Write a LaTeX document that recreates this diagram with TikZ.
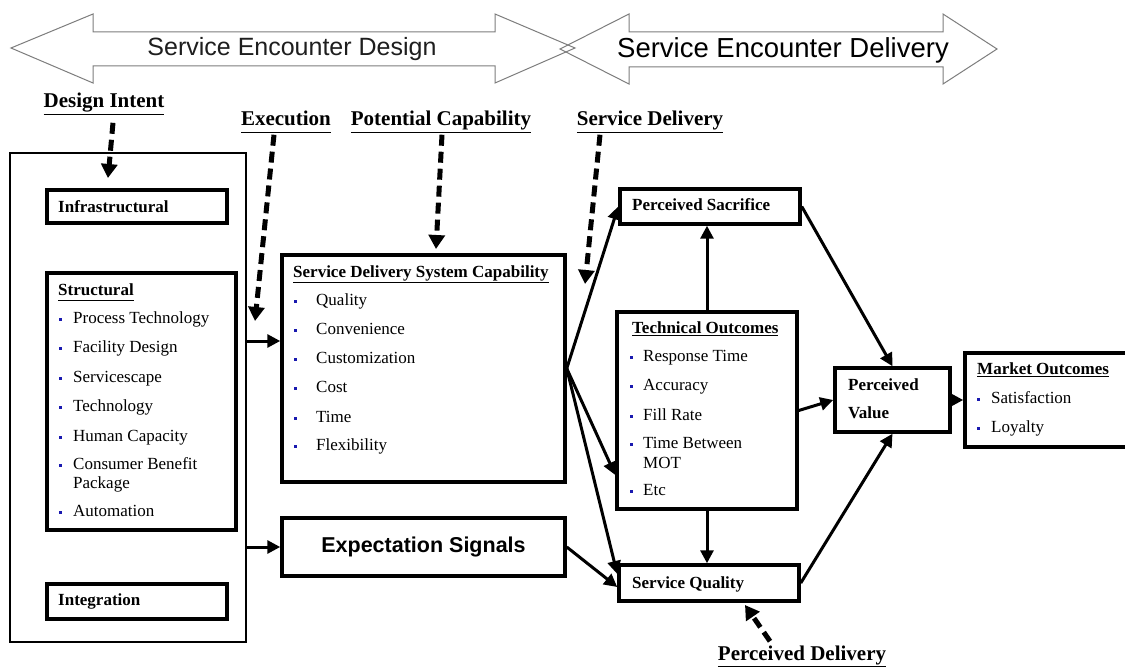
\documentclass[tikz,border=0pt]{standalone}
\usepackage{fontspec}
\setmainfont{Liberation Serif}
\newfontfamily\arialf{Liberation Sans}
\usetikzlibrary{arrows.meta,calc}
\definecolor{bulblue}{RGB}{25,25,175}
\definecolor{arrgray}{RGB}{125,125,125}
\definecolor{txtgray}{RGB}{30,30,30}
\begin{document}
\begin{tikzpicture}[x=1pt,y=-1pt,
  box/.style={draw, line width=3.5pt, inner sep=0pt, fill=white},
  bigbox/.style={draw, line width=2.5pt, inner sep=0pt},
  itm/.style={anchor=base west, inner sep=0pt, font=\fontsize{17}{19}\selectfont},
  ttl/.style={anchor=base west, inner sep=0pt, font=\bfseries\fontsize{17}{19}\selectfont},
  bul/.style={fill=bulblue, minimum size=3pt, inner sep=0pt},
  lab/.style={anchor=base, inner sep=0pt, font=\bfseries\fontsize{21}{23}\selectfont},
  arr/.style={line width=3pt, -{Triangle[length=13pt,width=13pt]}},
  darr/.style={line width=5pt, dash pattern=on 11pt off 6pt, -{Triangle[length=14pt,width=16pt]}},
  toparr/.style={draw=arrgray, line width=1pt, line join=miter}
]
\fill[white] (0,0) rectangle (1125,671);
\useasboundingbox (0,0) rectangle (1125,671);

% top double arrows
\draw[toparr] (11,48) -- (93,14) -- (93,32) -- (495,32) -- (495,14) -- (575,48) -- (495,83) -- (495,66) -- (93,66) -- (93,83) -- cycle;
\draw[toparr] (560,49) -- (629,14) -- (629,32) -- (943,32) -- (943,14) -- (997,49) -- (943,84) -- (943,67) -- (629,67) -- (629,84) -- cycle;
\node[inner sep=0pt, text=txtgray, font=\arialf\fontsize{25}{25}\selectfont] (sedes) at (292,49) {Service Encounter Design};
\node[inner sep=0pt, font=\arialf\fontsize{27.5}{28}\selectfont] (sedel) at (783,50) {Service Encounter Delivery};

% boxes
\node[bigbox, minimum width=236pt, minimum height=489pt] (big) at (128,397.5) {};
\node[box, minimum width=180pt, minimum height=33pt] (infra) at (137,206.5) {};
\node[box, minimum width=189pt, minimum height=257pt] (struct) at (141.5,401.5) {};
\node[box, minimum width=180pt, minimum height=35pt] (integ) at (137,601.5) {};
\node[box, minimum width=283pt, minimum height=227pt] (sdsc) at (423.5,368.5) {};
\node[box, minimum width=283pt, minimum height=58pt] (exp) at (423.5,547) {};
\node[box, minimum width=180pt, minimum height=35pt] (sac) at (710,206.5) {};
\node[box, minimum width=180pt, minimum height=197pt] (tech) at (707,410.5) {};
\node[box, minimum width=180pt, minimum height=36pt] (sq) at (709,583) {};
\node[box, minimum width=115pt, minimum height=64pt] (pv) at (892.5,400) {};
\node[box, minimum width=170pt, minimum height=94pt] (mo) at (1050,400) {};

% box texts
\node[ttl] (infraT) at (58,212.5) {Infrastructural};
\node[ttl] (structT) at (58,295.5) {\underline{Structural\vphantom{y}}};
\foreach \n/\y/\t in {sp/318/Process Technology, sf/347/Facility Design, ss/377/Servicescape, st/406/Technology, sh/436/Human Capacity, sc/464/Consumer Benefit, sa/511/Automation}{
  \node[bul] (\n-b) at (60,\y+1) {};
  \node[itm] (\n) at (73,\y+5.5) {\t};
}
\node[itm] (spk) at (73,488.5) {Package};
\node[ttl] (integT) at (58,605.5) {Integration};

\node[ttl] (sdscT) at (293,277.5) {\underline{Service Delivery System Capability}};
\foreach \n/\y/\t in {q/300/Quality, cv/329/Convenience, cu/358/Customization, co/387/Cost, ti/417/Time, fl/445/Flexibility}{
  \node[bul] (\n-b) at (295,\y+1) {};
  \node[itm] (\n) at (316,\y+5.5) {\t};
}
\node[inner sep=0pt, font=\arialf\bfseries\fontsize{21.5}{22}\selectfont] (expT) at (exp.center) {Expectation Signals};

\node[ttl] (sacT) at (632,210.5) {Perceived Sacrifice};
\node[ttl] (techT) at (632,333.5) {\underline{Technical Outcomes}};
\foreach \n/\y/\t in {rt/356/Response Time, ac/385/Accuracy, fr/415/Fill Rate, tb/443/Time Between, et/490/Etc}{
  \node[bul] (\n-b) at (631,\y+1) {};
  \node[itm] (\n) at (643,\y+5.5) {\t};
}
\node[itm] (mot) at (643,468.5) {MOT};
\node[ttl] (sqT) at (632,588.5) {Service Quality};
\node[ttl] (pvT1) at (848,390.5) {Perceived};
\node[ttl] (pvT2) at (848,418.5) {Value};
\node[ttl] (moT) at (977,374.5) {\underline{Market Outcomes}};
\foreach \n/\y/\t in {sat/398/Satisfaction, loy/427/Loyalty}{
  \node[bul] (\n-b) at (978,\y+1) {};
  \node[itm] (\n) at (991,\y+5.5) {\t};
}

% labels
\node[lab] (di) at (104,108) {\underline{Design Intent}};
\node[lab] (ex) at (286,126) {\underline{Execution\vphantom{y}}};
\node[lab] (pc) at (441,126) {\underline{Potential Capability}};
\node[lab] (sd) at (650,126) {\underline{Service Delivery}};
\node[lab] (pd) at (802,660) {\underline{Perceived Delivery}};

\coordinate (diE) at (108,178);
\coordinate (exE) at (255,321);
\coordinate (pcE) at (436,249);
\coordinate (sdE) at (585,284);
\coordinate (pdE) at (745,605);

\draw[darr] ($(di.south)+(9,8)$) -- (diE);
\draw[darr] ($(ex.south)+(-12,2)$) -- (exE);
\draw[darr] ($(pc.south)+(1,2)$) -- (pcE);
\draw[darr] ($(sd.south)+(-50,2)$) -- (sdE);
\draw[darr] ($(pd.north)+(-32,-4)$) -- (pdE);

% solid connectors
\draw[arr] (big.east |- 0,341) -- (sdsc.west |- 0,341);
\draw[arr] (big.east |- exp.west) -- (exp.west);
\draw[arr] (sdsc.east) -- (sac.west);
\draw[arr] (sdsc.east) -- (tech.west |- 0,475);
\draw[arr] (sdsc.east) -- (sq.west |- 0,574);
\draw[arr] (exp.east) -- (sq.west |- 0,587);
\draw[arr] (tech.north) -- (tech.north |- sac.south);
\draw[arr] (tech.south) -- (tech.south |- sq.north);
\draw[arr] (sac.east) -- (pv.north);
\draw[arr] (tech.east) -- (pv.west);
\draw[arr] (sq.east) -- (pv.south);
\draw[arr] (pv.east) -- (mo.west);
\end{tikzpicture}
\end{document}
